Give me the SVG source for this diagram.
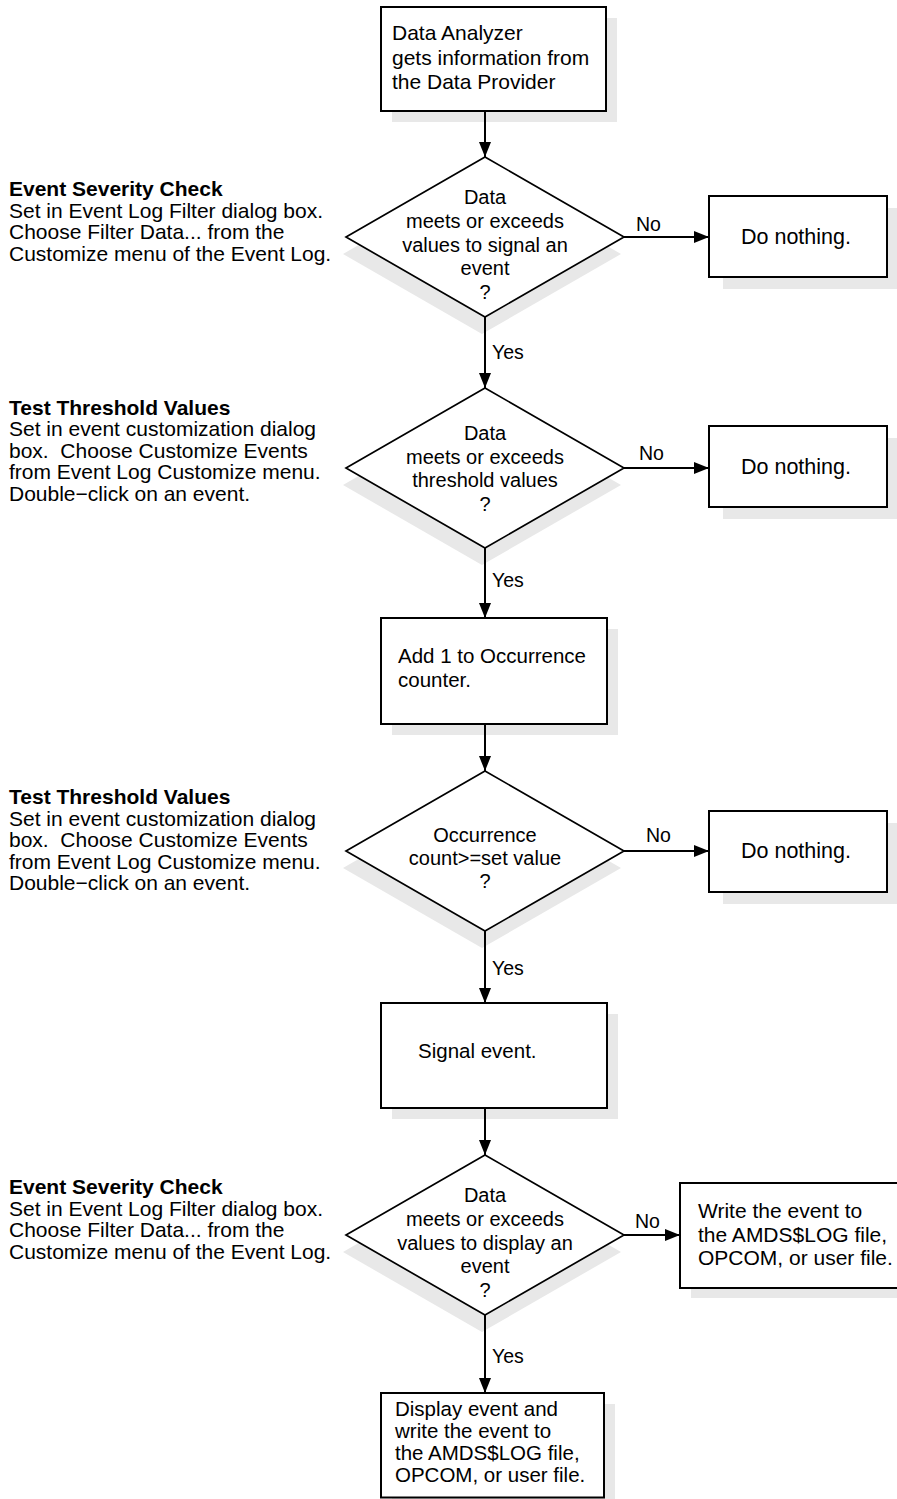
<svg xmlns="http://www.w3.org/2000/svg" width="897" height="1499" viewBox="0 0 897 1499">
<defs>
<marker id="ah" viewBox="0 0 15 12" refX="15" refY="6" markerWidth="15" markerHeight="12" markerUnits="userSpaceOnUse" orient="auto">
<path d="M0,0 L15,6 L0,12 z" fill="#000"/>
</marker>
</defs>
<style>
text{font-family:"Liberation Sans",Arial,sans-serif;fill:#000;white-space:pre}
.t{font-size:21px}
.b{font-size:21px;font-weight:bold}
.bx{font-size:20.5px}
.bx2{font-size:21px}
.dn{font-size:21.5px}
.dm{font-size:20px;text-anchor:middle}
.lb{font-size:19.5px}
.sh{fill:#e8e8e8;stroke:none}
.box{fill:#fff;stroke:#000;stroke-width:2}
.dia{fill:#fff;stroke:#000;stroke-width:1.7}
.cn{stroke:#000;stroke-width:2;fill:none;marker-end:url(#ah)}
</style>

<g id="note1">
<text class="b" x="9" y="196">Event Severity Check</text>
<text class="t" x="9" y="217.5">Set in Event Log Filter dialog box.</text>
<text class="t" x="9" y="239">Choose Filter Data... from the</text>
<text class="t" x="9" y="260.5">Customize menu of the Event Log.</text>
</g>
<g id="note2">
<text class="b" x="9" y="414.5">Test Threshold Values</text>
<text class="t" x="9" y="436">Set in event customization dialog</text>
<text class="t" x="9" y="457.5" xml:space="preserve">box.  Choose Customize Events</text>
<text class="t" x="9" y="479">from Event Log Customize menu.</text>
<text class="t" x="9" y="500.5">Double−click on an event.</text>
</g>
<g id="note3">
<text class="b" x="9" y="804">Test Threshold Values</text>
<text class="t" x="9" y="825.5">Set in event customization dialog</text>
<text class="t" x="9" y="847" xml:space="preserve">box.  Choose Customize Events</text>
<text class="t" x="9" y="868.5">from Event Log Customize menu.</text>
<text class="t" x="9" y="890">Double−click on an event.</text>
</g>
<g id="note4">
<text class="b" x="9" y="1194">Event Severity Check</text>
<text class="t" x="9" y="1215.5">Set in Event Log Filter dialog box.</text>
<text class="t" x="9" y="1237">Choose Filter Data... from the</text>
<text class="t" x="9" y="1258.5">Customize menu of the Event Log.</text>
</g>

<g id="start">
<rect class="sh" x="392" y="18" width="225" height="104"/>
<rect class="box" x="381" y="7" width="225" height="104"/>
<text class="bx2" x="392" y="40">Data Analyzer</text>
<text class="bx2" x="392" y="64.5">gets information from</text>
<text class="bx2" x="392" y="89">the Data Provider</text>
</g>

<g id="dec1">
<polygon class="sh" points="482,174 621,254 482,334 343,254"/>
<polygon class="dia" points="485,157 624,237 485,317 346,237"/>
<text class="dm" x="485" y="204">Data</text>
<text class="dm" x="485" y="228">meets or exceeds</text>
<text class="dm" x="485" y="251.5">values to signal an</text>
<text class="dm" x="485" y="275">event</text>
<text class="dm" x="485" y="298.5">?</text>
</g>
<g id="nothing1">
<rect class="sh" x="723" y="208" width="178" height="81"/>
<rect class="box" x="709" y="196" width="178" height="81"/>
<text class="dn" x="741" y="244">Do nothing.</text>
</g>

<g id="dec2">
<polygon class="sh" points="482,405 621,485 482,565 343,485"/>
<polygon class="dia" points="485,388 624,468 485,548 346,468"/>
<text class="dm" x="485" y="440">Data</text>
<text class="dm" x="485" y="463.5">meets or exceeds</text>
<text class="dm" x="485" y="487">threshold values</text>
<text class="dm" x="485" y="510.5">?</text>
</g>
<g id="nothing2">
<rect class="sh" x="723" y="438" width="178" height="81"/>
<rect class="box" x="709" y="426" width="178" height="81"/>
<text class="dn" x="741" y="474">Do nothing.</text>
</g>

<g id="count">
<rect class="sh" x="392" y="629" width="226" height="106"/>
<rect class="box" x="381" y="618" width="226" height="106"/>
<text class="bx" x="398" y="662.5">Add 1 to Occurrence</text>
<text class="bx" x="398" y="686.5">counter.</text>
</g>

<g id="dec3">
<polygon class="sh" points="482,788 621,868 482,948 343,868"/>
<polygon class="dia" points="485,771 624,851 485,931 346,851"/>
<text class="dm" x="485" y="842">Occurrence</text>
<text class="dm" x="485" y="865">count&gt;=set value</text>
<text class="dm" x="485" y="888">?</text>
</g>
<g id="nothing3">
<rect class="sh" x="723" y="823" width="178" height="81"/>
<rect class="box" x="709" y="811" width="178" height="81"/>
<text class="dn" x="741" y="858">Do nothing.</text>
</g>

<g id="signal">
<rect class="sh" x="392" y="1014" width="226" height="105"/>
<rect class="box" x="381" y="1003" width="226" height="105"/>
<text class="bx" x="418" y="1058">Signal event.</text>
</g>

<g id="dec4">
<polygon class="sh" points="482,1172 621,1252 482,1332 343,1252"/>
<polygon class="dia" points="485,1155 624,1235 485,1315 346,1235"/>
<text class="dm" x="485" y="1202">Data</text>
<text class="dm" x="485" y="1226">meets or exceeds</text>
<text class="dm" x="485" y="1249.5">values to display an</text>
<text class="dm" x="485" y="1273">event</text>
<text class="dm" x="485" y="1296.5">?</text>
</g>
<g id="write">
<rect class="sh" x="691" y="1193" width="230" height="105"/>
<rect class="box" x="680" y="1183" width="230" height="105"/>
<text class="bx2" x="698" y="1218">Write the event to</text>
<text class="bx2" x="698" y="1241.5">the AMDS$LOG file,</text>
<text class="bx2" x="698" y="1265">OPCOM, or user file.</text>
</g>

<g id="display">
<rect class="sh" x="392" y="1404" width="223" height="105"/>
<rect class="box" x="381" y="1393" width="223" height="104.5"/>
<text class="bx" x="395" y="1416">Display event and</text>
<text class="bx" x="395" y="1437.5">write the event to</text>
<text class="bx" x="395" y="1459.5">the AMDS$LOG file,</text>
<text class="bx" x="395" y="1481.5">OPCOM, or user file.</text>
</g>

<g id="connectors">
<line class="cn" x1="485" y1="111" x2="485" y2="157"/>
<line class="cn" x1="485" y1="317" x2="485" y2="388"/>
<line class="cn" x1="485" y1="548" x2="485" y2="618"/>
<line class="cn" x1="485" y1="724" x2="485" y2="771"/>
<line class="cn" x1="485" y1="931" x2="485" y2="1003"/>
<line class="cn" x1="485" y1="1108" x2="485" y2="1155"/>
<line class="cn" x1="485" y1="1315" x2="485" y2="1393"/>
<line class="cn" x1="624" y1="237" x2="709" y2="237"/>
<line class="cn" x1="624" y1="468" x2="709" y2="468"/>
<line class="cn" x1="624" y1="851" x2="709" y2="851"/>
<line class="cn" x1="624" y1="1235" x2="680" y2="1235"/>
<text class="lb" x="492" y="359">Yes</text>
<text class="lb" x="492" y="587">Yes</text>
<text class="lb" x="492" y="975">Yes</text>
<text class="lb" x="492" y="1363">Yes</text>
<text class="lb" x="636" y="231">No</text>
<text class="lb" x="639" y="460">No</text>
<text class="lb" x="646" y="842">No</text>
<text class="lb" x="635" y="1228">No</text>
</g>
</svg>
